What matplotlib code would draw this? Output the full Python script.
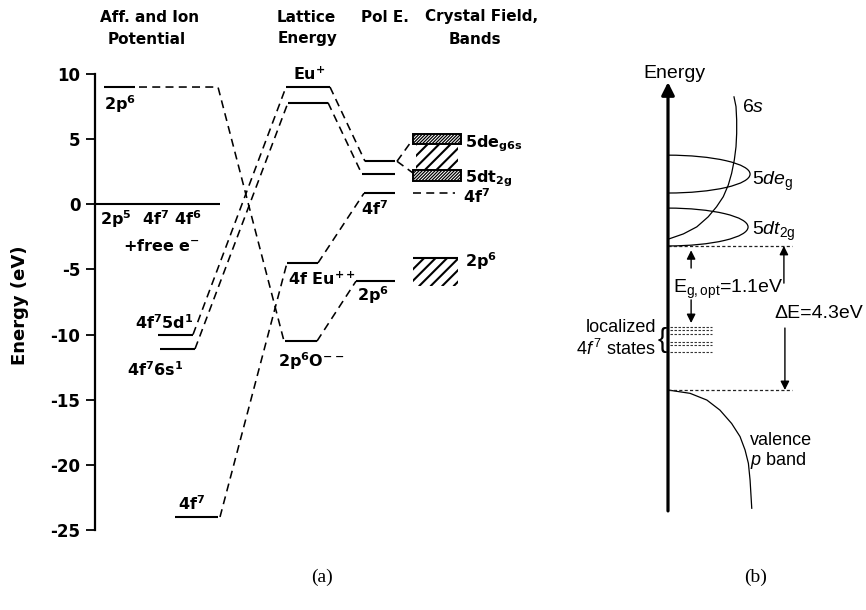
import matplotlib
matplotlib.use('Agg')
import matplotlib.pyplot as plt
from matplotlib.patches import Rectangle, Arc

plt.rcParams['font.family'] = ['DejaVu Sans']
plt.rcParams['axes.unicode_minus'] = False
plt.rcParams['mathtext.fontset'] = 'custom'
plt.rcParams['mathtext.rm'] = 'Liberation Sans'
plt.rcParams['mathtext.it'] = 'Liberation Sans:italic'
plt.rcParams['mathtext.bf'] = 'Liberation Sans:bold'

# ---------------- panel (a): Born-Haber style level diagram (eV) ----------------
y_ticks = [10, 5, 0, -5, -10, -15, -20, -25]

# affinity / ionisation column: 2p6, reference, 4f7 5d1, 4f7 6s1, 4f7
aff_energy = [9.0, 0.0, -10.0, -11.1, -24.0]
# lattice energy column: Eu+ (5d), Eu+ (6s), 4f Eu++, 2p6 O--
lattice_energy = [9.0, 7.8, -4.5, -10.5]
# polarisation column: upper, lower, 4f7, 2p6
pol_energy = [3.3, 2.3, 0.85, -5.9]
# crystal field / bands column
band_eg6s = [4.6, 5.4]
band_between = [2.6, 4.6]
band_t2g = [1.8, 2.6]
cf_4f7 = 0.85
band_2p6 = [-6.3, -4.1]

header_lines = [['Aff. and Ion', 'Potential'], ['Lattice', 'Energy'],
                ['Pol E.'], ['Crystal Field,', 'Bands']]

# ---------------- panel (b): schematic band picture ----------------
delta_e = 4.3        # conduction band bottom above valence band top (eV)
eg_opt = 1.1
loc_4f_levels = [1.88, 1.78, 1.67, 1.43, 1.34, 1.13]
lobe_eg = [5.88, 7.01]     # 5d e_g lobe, lower/upper edge
lobe_t2g = [delta_e, 5.43]  # 5d t_2g lobe
lobe_reach = [2.45, 2.39]   # how far each lobe extends to the right
s6_x = [1.97, 2.03, 2.05, 2.05, 2.03, 1.98, 1.90, 1.80, 1.65, 1.45, 1.20, 0.86, 0.46, 0.0]
s6_e = [8.75, 8.46, 8.06, 7.66, 7.26, 6.87, 6.47, 6.12, 5.77, 5.47, 5.17, 4.87, 4.66, 4.50]
vb_x = [0.0, 0.66, 1.16, 1.55, 1.90, 2.15, 2.30, 2.40, 2.45, 2.48, 2.50]
vb_e = [0.0, -0.10, -0.30, -0.60, -1.00, -1.39, -1.79, -2.19, -2.69, -3.19, -3.53]

# ---------------- layout ----------------
W, H = 866, 610
fig = plt.figure(figsize=(W / 100, H / 100), dpi=100)

# level-bar extents along the diagram (x in diagram units = pixels)
aff_span = [(104, 135), (95, 220), (158, 193), (160, 195), (175, 218)]
lat_span = [(286, 330), (288, 328), (287, 318), (285, 317)]
pol_span = [(365, 395), (362, 395), (364, 395), (356, 395)]
cf_span = (413, 461)

ax = fig.add_axes([95 / W, (H - 530) / H, 465 / W, 456 / H])
ax.set_xlim(95, 560)
ax.set_ylim(-25, 10)
PX_PER_EV = 456 / 35.0
for s in ('top', 'right', 'bottom'):
    ax.spines[s].set_visible(False)
ax.spines['left'].set_linewidth(1.6)
ax.set_xticks([])
ax.set_yticks(y_ticks)
ax.set_yticklabels([str(v) for v in y_ticks])
ax.tick_params(axis='y', direction='out', length=6.5, width=1.3, pad=4, labelsize=12)
for lbl in ax.get_yticklabels():
    lbl.set_fontweight('bold')

LEVEL_LW = 1.5
DASH_LW = 1.15
DASHES = (5, 3.3)


def level(span, e):
    ax.plot(span, [e, e], color='k', lw=LEVEL_LW, solid_capstyle='butt')


def dashed(xs, es):
    ax.plot(xs, es, color='k', lw=DASH_LW, dashes=DASHES)


def lab(x, e, s, size=11.5):
    ax.text(x, e, s, fontsize=size, fontweight='bold', math_fontfamily='dejavusans',
            ha='left', va='baseline')


def hatch_box(x0, x1, e0, e1, step, lw):
    clip = Rectangle((x0, e0), x1 - x0, e1 - e0, transform=ax.transData)
    h = (e1 - e0) * PX_PER_EV
    c = x0 - h
    while c < x1:
        ln, = ax.plot([c, c + h], [e0, e1], color='k', lw=lw, solid_capstyle='butt')
        ln.set_clip_path(clip)
        c += step


# level bars
for sp, e in zip(aff_span, aff_energy):
    level(sp, e)
for sp, e in zip(lat_span, lattice_energy):
    level(sp, e)
for sp, e in zip(pol_span, pol_energy):
    level(sp, e)

# dashed correlation lines
dashed([aff_span[0][1] + 4, aff_span[1][1] - 2, lat_span[3][0] - 1],
       [aff_energy[0], aff_energy[0], lattice_energy[3]])
dashed([aff_span[4][1] + 2, lat_span[2][0]], [aff_energy[4], lattice_energy[2]])
dashed([aff_span[2][1], lat_span[0][0]], [aff_energy[2], lattice_energy[0]])
dashed([aff_span[3][1], lat_span[1][0]], [aff_energy[3], lattice_energy[1]])
for i in range(4):
    dashed([lat_span[i][1], pol_span[i][0]], [lattice_energy[i], pol_energy[i]])
dashed([pol_span[0][1] + 2, cf_span[0]], [pol_energy[0], sum(band_eg6s) / 2])
dashed([pol_span[0][1] + 2, cf_span[0]], [pol_energy[0], band_t2g[1] - 0.2])
dashed([cf_span[0], cf_span[1] - 6], [cf_4f7, cf_4f7])

# crystal-field bands
for b in (band_eg6s, band_t2g):
    hatch_box(cf_span[0], cf_span[1], b[0], b[1], 3.2, 0.9)
    ax.add_patch(Rectangle((cf_span[0], b[0]), cf_span[1] - cf_span[0], b[1] - b[0],
                           fill=False, ec='k', lw=1.4))
hatch_box(cf_span[0] + 3, cf_span[1] - 3, band_between[0], band_between[1], 11.5, 1.5)
hatch_box(cf_span[0], cf_span[1] - 3, band_2p6[0], band_2p6[1], 11.5, 1.5)
level((cf_span[0], cf_span[1] - 3), band_2p6[1])

# level labels
lab(104, 7.2, r'2p$^{\mathbf{6}}$')
lab(100, -1.6, r'2p$^{\mathbf{5}}$  4f$^{\mathbf{7}}$ 4f$^{\mathbf{6}}$')
lab(123, -3.6, r'+free e$^{\mathbf{-}}$')
lab(135, -9.6, r'4f$^{\mathbf{7}}$5d$^{\mathbf{1}}$')
lab(127, -13.2, r'4f$^{\mathbf{7}}$6s$^{\mathbf{1}}$')
lab(178, -23.5, r'4f$^{\mathbf{7}}$')
lab(293, 9.55, r'Eu$^{\mathbf{+}}$')
lab(288, -6.2, r'4f Eu$^{\mathbf{++}}$')
lab(278, -12.5, r'2p$^{\mathbf{6}}$O$^{\mathbf{--}}$')
lab(361, -0.85, r'4f$^{\mathbf{7}}$')
lab(357, -7.4, r'2p$^{\mathbf{6}}$')
lab(465, 4.38, r'5de$_{\mathbf{g6s}}$')
lab(465, 1.7, r'5dt$_{\mathbf{2g}}$')
lab(463, 0.08, r'4f$^{\mathbf{7}}$')
lab(465, -4.8, r'2p$^{\mathbf{6}}$')


def ftext(px, py, s, **kw):
    fig.text(px / W, 1 - py / H, s, **kw)


header_pos = [[(150, 17), (147, 39)], [(306, 17), (308, 39)], [(385, 17)],
              [(482, 17), (475, 39)]]
for lines, poss in zip(header_lines, header_pos):
    for t, (px, py) in zip(lines, poss):
        ftext(px, py, t, fontsize=11, fontweight='bold', ha='center', va='center')

ftext(20, 305, 'Energy (eV)', fontsize=13, fontweight='bold', rotation=90,
      ha='center', va='center')

# ---------------- panel (b) ----------------
PX_PER_U = 33.5
bx = fig.add_axes([560 / W, (H - 540) / H, 306 / W, 500 / H])
bx.set_xlim(-108 / PX_PER_U, 198 / PX_PER_U)
bx.set_ylim(-150 / PX_PER_U, 350 / PX_PER_U)
bx.axis('off')

SANS = 'Liberation Sans'
bx.annotate('', xy=(0, 9.19), xytext=(0, -3.61),
            arrowprops=dict(arrowstyle='-|>', lw=2.3, color='k', mutation_scale=19,
                            shrinkA=0, shrinkB=0))
bx.text(0.18, 9.31, 'Energy', family=SANS, fontsize=14, ha='center', va='baseline')

for (lo, hi), reach in zip((lobe_eg, lobe_t2g), lobe_reach):
    bx.add_patch(Arc((0, (lo + hi) / 2), 2 * reach, hi - lo, theta1=-90, theta2=90,
                     lw=0.9, color='k'))
bx.plot(s6_x, s6_e, color='k', lw=0.9)
bx.plot(vb_x, vb_e, color='k', lw=0.9)

bx.text(2.21, 8.30, r'6$s$', family=SANS, fontsize=14, va='baseline')
bx.text(2.51, 6.12, r'5$de_{\mathrm{g}}$', family=SANS, fontsize=14, va='baseline')
bx.text(2.51, 4.63, r'5$dt_{\mathrm{2g}}$', family=SANS, fontsize=14, va='baseline')

line_end = 3.70
bx.plot([0, line_end], [delta_e, delta_e], color='#222222', lw=0.9, dashes=(2.5, 1.8))
bx.plot([0, line_end], [0, 0], color='#222222', lw=0.9, dashes=(2.5, 1.8))
for e in loc_4f_levels:
    bx.plot([0.05, 1.31], [e, e], color='#333333', lw=0.8, dashes=(2.2, 1.4))

arrow_kw = dict(arrowstyle='-|>', lw=1.0, color='k', mutation_scale=13,
                shrinkA=0, shrinkB=0)
bx.annotate('', xy=(0.69, delta_e - 0.13), xytext=(0.69, 3.64), arrowprops=arrow_kw)
bx.annotate('', xy=(0.69, 2.0), xytext=(0.69, 2.69), arrowprops=arrow_kw)
bx.annotate('', xy=(3.46, delta_e), xytext=(3.46, 3.19), arrowprops=arrow_kw)
bx.annotate('', xy=(3.49, 0.0), xytext=(3.49, 1.85), arrowprops=arrow_kw)

bx.text(0.15, 2.90, r'E$_{\mathrm{g,opt}}$=%.1feV' % eg_opt, family=SANS, fontsize=14,
        va='baseline')
bx.text(3.19, 2.15, '\u0394E=%.1feV' % delta_e, family=SANS, fontsize=14, va='baseline')

bx.text(-0.36, 1.73, 'localized', family=SANS, fontsize=13, ha='right', va='baseline')
bx.text(-0.36, 1.04, r'4$f^{\,7}$ states', family=SANS, fontsize=13, ha='right',
        va='baseline')
bx.text(-0.18, 1.50, '{', family=SANS, fontsize=20, ha='center', va='center')

bx.text(2.45, -1.64, 'valence', family=SANS, fontsize=13, va='baseline')
bx.text(2.45, -2.24, r'$p$ band', family=SANS, fontsize=13, va='baseline')

# panel captions
ftext(322, 577, '(a)', family='Liberation Serif', fontsize=14, ha='center', va='center')
ftext(756, 577, '(b)', family='Liberation Serif', fontsize=14, ha='center', va='center')

fig.savefig('out.png', dpi=100, facecolor='white')
